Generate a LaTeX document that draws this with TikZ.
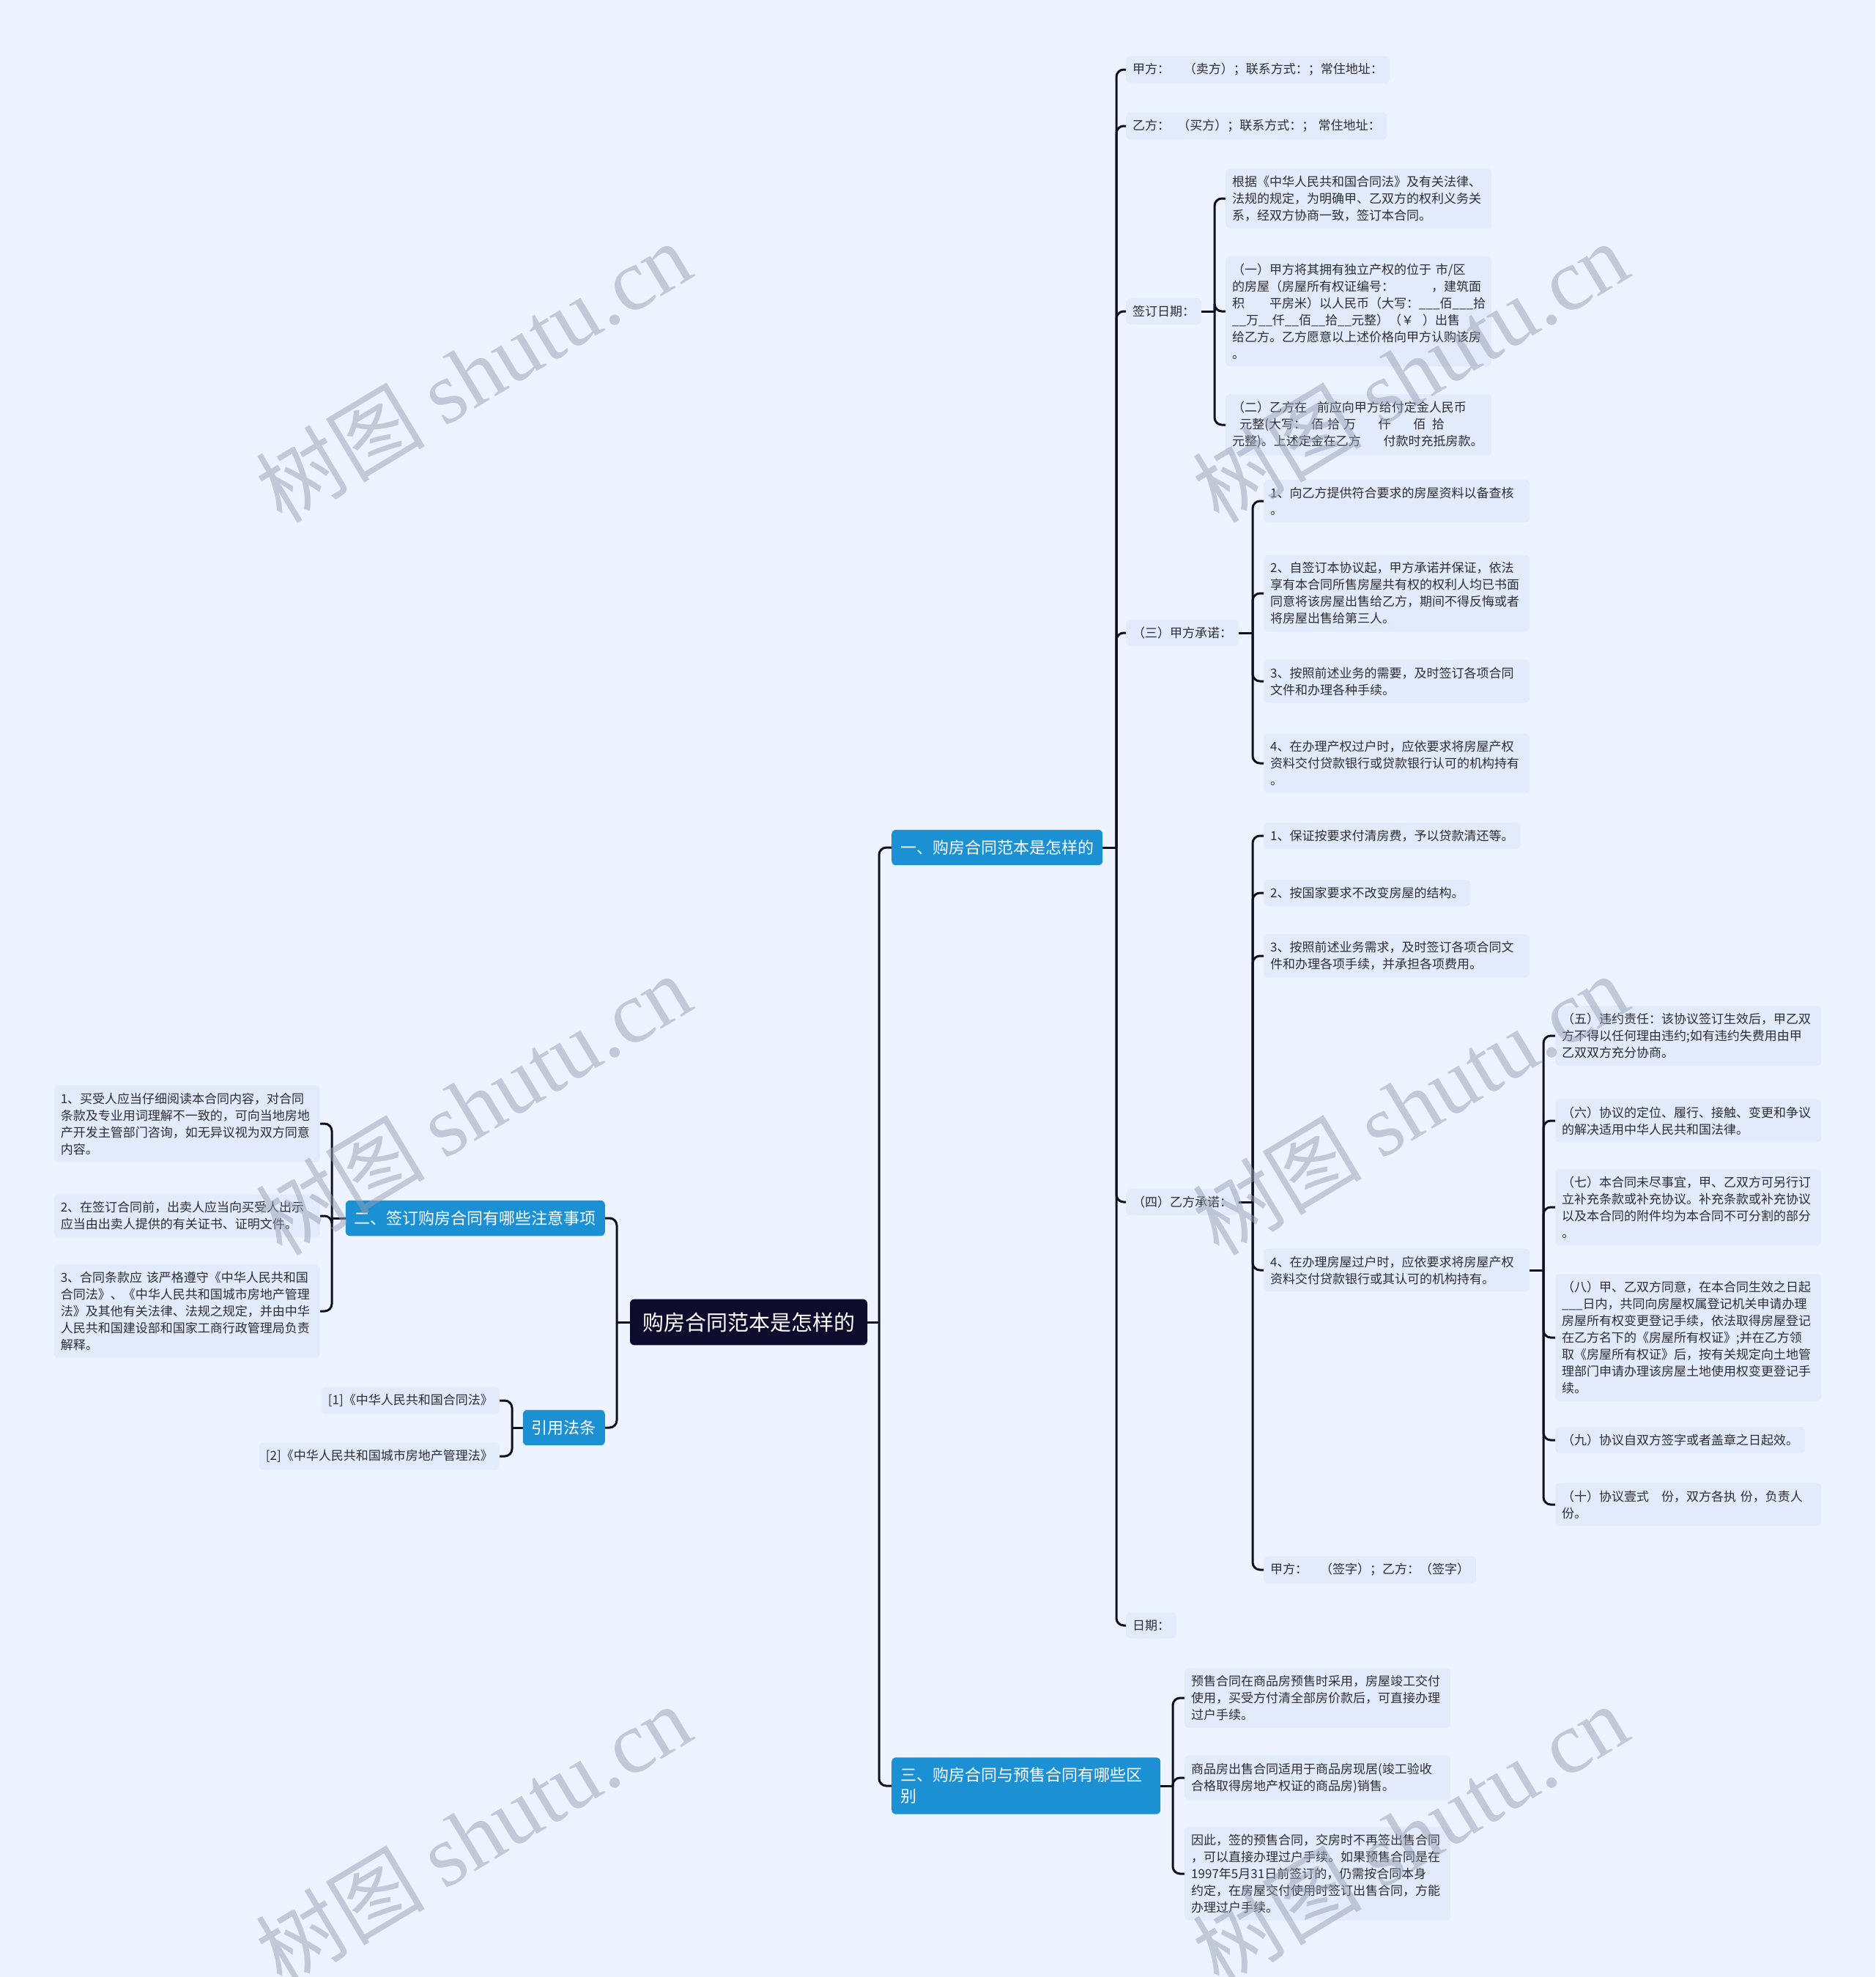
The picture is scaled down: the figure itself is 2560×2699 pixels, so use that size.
\documentclass[tikz,border=0pt]{standalone}
\usepackage{fontspec}
\newfontfamily\cjk{Noto Sans CJK SC}
\newfontfamily\wmlat{Liberation Serif}
\definecolor{bgc}{RGB}{238,244,255}
\definecolor{leafc}{RGB}{226,235,252}
\definecolor{leaftext}{RGB}{45,45,50}
\definecolor{branchc}{RGB}{27,144,210}
\definecolor{rootc}{RGB}{14,11,45}
\definecolor{linec}{RGB}{16,16,32}
\definecolor{wmc}{RGB}{150,160,180}
\tikzset{
 leaf/.style={fill=leafc, rounded corners=6pt, inner xsep=9pt, inner ysep=10pt, font=\cjk\fontsize{17}{23}\selectfont, text=leaftext, align=left},
 wide/.style={leaf, text width=345pt},
 branch/.style={fill=branchc, rounded corners=6pt, inner xsep=12pt, inner ysep=14pt, font=\cjk\fontsize{22}{29}\selectfont, text=white, align=left},
 rootbox/.style={fill=rootc, rounded corners=6pt, inner xsep=17pt, inner ysep=18pt, font=\cjk\fontsize{29}{35}\selectfont, text=white},
 conn/.style={draw=linec, line width=3pt, rounded corners=10pt},
 wm/.style={text=wmc, opacity=0.5, rotate=31, inner sep=0pt}
}
\newcommand\wmtext{{\cjk\fontsize{116}{116}\selectfont 树图\ }{\wmlat\fontsize{120}{120}\selectfont shutu.cn}}
\begin{document}
\begin{tikzpicture}[x=1pt,y=-1pt]
\useasboundingbox (0,0) rectangle (2560,2699);
\fill[bgc] (0,0) rectangle (2560,2699);

% root and branches
\node[rootbox] (root) at (1022,1805) {购房合同范本是怎样的};
\node[branch, anchor=west] (b1) at (1217,1157) {一、购房合同范本是怎样的};
\node[branch, anchor=west, text width=343pt] (b3) at (1217,2438) {三、购房合同与预售合同有哪些区\\别};
\node[branch, anchor=east] (b2) at (826,1663) {二、签订购房合同有哪些注意事项};
\node[branch, anchor=east] (b4) at (826,1949) {引用法条};

% branch 1 children
\node[leaf, anchor=west] (p1) at (1537,95) {甲方：\hspace{1.1em}（卖方）；联系方式：；常住地址：};
\node[leaf, anchor=west] (p2) at (1537,172) {乙方：\hspace{0.6em}（买方）；联系方式：；\hspace{0.3em}常住地址：};
\node[leaf, anchor=west] (p3) at (1537,425) {签订日期：};
\node[leaf, anchor=west] (p4) at (1537,864) {（三）甲方承诺：};
\node[leaf, anchor=west] (p5) at (1537,1641) {（四）乙方承诺：};
\node[leaf, anchor=west] (p6) at (1537,2219) {日期：};

% 签订日期 children
\node[wide, anchor=west] (s1) at (1673,271) {根据《中华人民共和国合同法》及有关法律、\\法规的规定，为明确甲、乙双方的权利义务关\\系，经双方协商一致，签订本合同。};
\node[wide, anchor=west] (s2) at (1673,425) {（一）甲方将其拥有独立产权的位于 市/区\\的房屋（房屋所有权证编号：\hspace{3em}，建筑面\\积\hspace{2em}平房米）以人民币（大写：\_\_\_佰\_\_\_拾\\\mbox{\_\_万\_\_仟\_\_佰\_\_拾\_\_元整）（￥\hspace{0.7em}）出售}\\给乙方。乙方愿意以上述价格向甲方认购该房\\。};
\node[wide, anchor=west] (s3) at (1673,580) {（二）乙方在\hspace{0.8em}前应向甲方给付定金人民币\\\hspace{0.6em}元整(大写：\hspace{0.4em}佰\hspace{0.3em}拾\hspace{0.3em}万\hspace{1.8em}仟\hspace{1.8em}佰\hspace{0.5em}拾\\元整)。上述定金在乙方\hspace{1.8em}付款时充抵房款。};

% (三) children
\node[wide, anchor=west] (t1) at (1725,684) {1、向乙方提供符合要求的房屋资料以备查核\\。};
\node[wide, anchor=west] (t2) at (1725,810) {2、自签订本协议起，甲方承诺并保证，依法\\享有本合同所售房屋共有权的权利人均已书面\\同意将该房屋出售给乙方，期间不得反悔或者\\将房屋出售给第三人。};
\node[wide, anchor=west] (t3) at (1725,930) {3、按照前述业务的需要，及时签订各项合同\\文件和办理各种手续。};
\node[wide, anchor=west] (t4) at (1725,1042) {4、在办理产权过户时，应依要求将房屋产权\\资料交付贷款银行或贷款银行认可的机构持有\\。};

% (四) children
\node[leaf, anchor=west] (f1) at (1725,1141) {1、保证按要求付清房费，予以贷款清还等。};
\node[leaf, anchor=west] (f2) at (1725,1219) {2、按国家要求不改变房屋的结构。};
\node[wide, anchor=west] (f3) at (1725,1305) {3、按照前述业务需求，及时签订各项合同文\\件和办理各项手续，并承担各项费用。};
\node[wide, anchor=west] (f4) at (1725,1734) {4、在办理房屋过户时，应依要求将房屋产权\\资料交付贷款银行或其认可的机构持有。};
\node[leaf, anchor=west] (f5) at (1725,2143) {甲方：\hspace{1em}（签字）；乙方：（签字）};

% f4 children
\node[wide, anchor=west] (g1) at (2123,1414) {（五）违约责任：该协议签订生效后，甲乙双\\方不得以任何理由违约;如有违约失费用由甲\\乙双双方充分协商。};
\node[wide, anchor=west] (g2) at (2123,1530) {（六）协议的定位、履行、接触、变更和争议\\的解决适用中华人民共和国法律。};
\node[wide, anchor=west] (g3) at (2123,1648) {（七）本合同未尽事宜，甲、乙双方可另行订\\立补充条款或补充协议。补充条款或补充协议\\以及本合同的附件均为本合同不可分割的部分\\。};
\node[wide, anchor=west] (g4) at (2123,1826) {（八）甲、乙双方同意，在本合同生效之日起\\\_\_\_日内，共同向房屋权属登记机关申请办理\\房屋所有权变更登记手续，依法取得房屋登记\\在乙方名下的《房屋所有权证》;并在乙方领\\取《房屋所有权证》后，按有关规定向土地管\\理部门申请办理该房屋土地使用权变更登记手\\续。};
\node[leaf, anchor=west] (g5) at (2123,1966) {（九）协议自双方签字或者盖章之日起效。};
\node[wide, anchor=west] (g6) at (2123,2054) {（十）协议壹式\hspace{1em}份，双方各执 份，负责人\\份。};

% branch 3 children
\node[wide, anchor=west] (h1) at (1617,2318) {预售合同在商品房预售时采用，房屋竣工交付\\使用，买受方付清全部房价款后，可直接办理\\过户手续。};
\node[wide, anchor=west] (h2) at (1617,2427) {商品房出售合同适用于商品房现居(竣工验收\\合格取得房地产权证的商品房)销售。};
\node[wide, anchor=west] (h3) at (1617,2558) {因此，签的预售合同，交房时不再签出售合同\\，可以直接办理过户手续。如果预售合同是在\\1997年5月31日前签订的，仍需按合同本身\\约定，在房屋交付使用时签订出售合同，方能\\办理过户手续。};

% branch 2 children
\node[wide, anchor=east] (l1) at (437,1534) {1、买受人应当仔细阅读本合同内容，对合同\\条款及专业用词理解不一致的，可向当地房地\\产开发主管部门咨询，如无异议视为双方同意\\内容。};
\node[wide, anchor=east] (l2) at (437,1660) {2、在签订合同前，出卖人应当向买受人出示\\应当由出卖人提供的有关证书、证明文件。};
\node[wide, anchor=east] (l3) at (437,1790) {3、合同条款应 该严格遵守《中华人民共和国\\合同法》、《中华人民共和国城市房地产管理\\法》及其他有关法律、法规之规定，并由中华\\人民共和国建设部和国家工商行政管理局负责\\解释。};

% 引用法条 children
\node[leaf, anchor=east] (r1) at (682,1912) {[1]《中华人民共和国合同法》};
\node[leaf, anchor=east] (r2) at (682,1988) {[2]《中华人民共和国城市房地产管理法》};

% junctions
\coordinate (jR) at (1200,1805);
\coordinate (jL) at (842,1805);
\coordinate (j1) at (1524,1157);
\coordinate (j2) at (453,1663);
\coordinate (j3) at (1601,2438);
\coordinate (j4) at (699,1949);
\coordinate (jS) at (1658,425);
\coordinate (jT) at (1710,864);
\coordinate (jF) at (1710,1641);
\coordinate (jG) at (2107,1734);

% connectors
\draw[conn] (root.east) -- (jR);
\draw[conn] (jR) |- (b1.west);
\draw[conn] (jR) |- (b3.west);
\draw[conn] (root.west) -- (jL);
\draw[conn] (jL) |- (b2.east);
\draw[conn] (jL) |- (b4.east);

\draw[conn] (b1.east) -- (j1);
\foreach \n in {p1,p2,p3,p4,p5,p6} \draw[conn] (j1) |- (\n.west);
\draw[conn] (p3.east) -- (jS);
\foreach \n in {s1,s2,s3} \draw[conn] (jS) |- (\n.west);
\draw[conn] (p4.east) -- (jT);
\foreach \n in {t1,t2,t3,t4} \draw[conn] (jT) |- (\n.west);
\draw[conn] (p5.east) -- (jF);
\foreach \n in {f1,f2,f3,f4,f5} \draw[conn] (jF) |- (\n.west);
\draw[conn] (f4.east) -- (jG);
\foreach \n in {g1,g2,g3,g4,g5,g6} \draw[conn] (jG) |- (\n.west);

\draw[conn] (b3.east) -- (j3);
\foreach \n in {h1,h2,h3} \draw[conn] (j3) |- (\n.west);

\draw[conn] (b2.west) -- (j2);
\foreach \n in {l1,l2,l3} \draw[conn] (j2) |- (\n.east);
\draw[conn] (b4.west) -- (j4);
\foreach \n in {r1,r2} \draw[conn] (j4) |- (\n.east);

% watermarks
\node[wm] (w1) at (646,508) {\wmtext};
\node[wm] (w2) at (1925,508) {\wmtext};
\node[wm] (w3) at (646,1508) {\wmtext};
\node[wm] (w4) at (1925,1508) {\wmtext};
\node[wm] (w5) at (646,2505) {\wmtext};
\node[wm] (w6) at (1925,2505) {\wmtext};
\end{tikzpicture}
\end{document}
